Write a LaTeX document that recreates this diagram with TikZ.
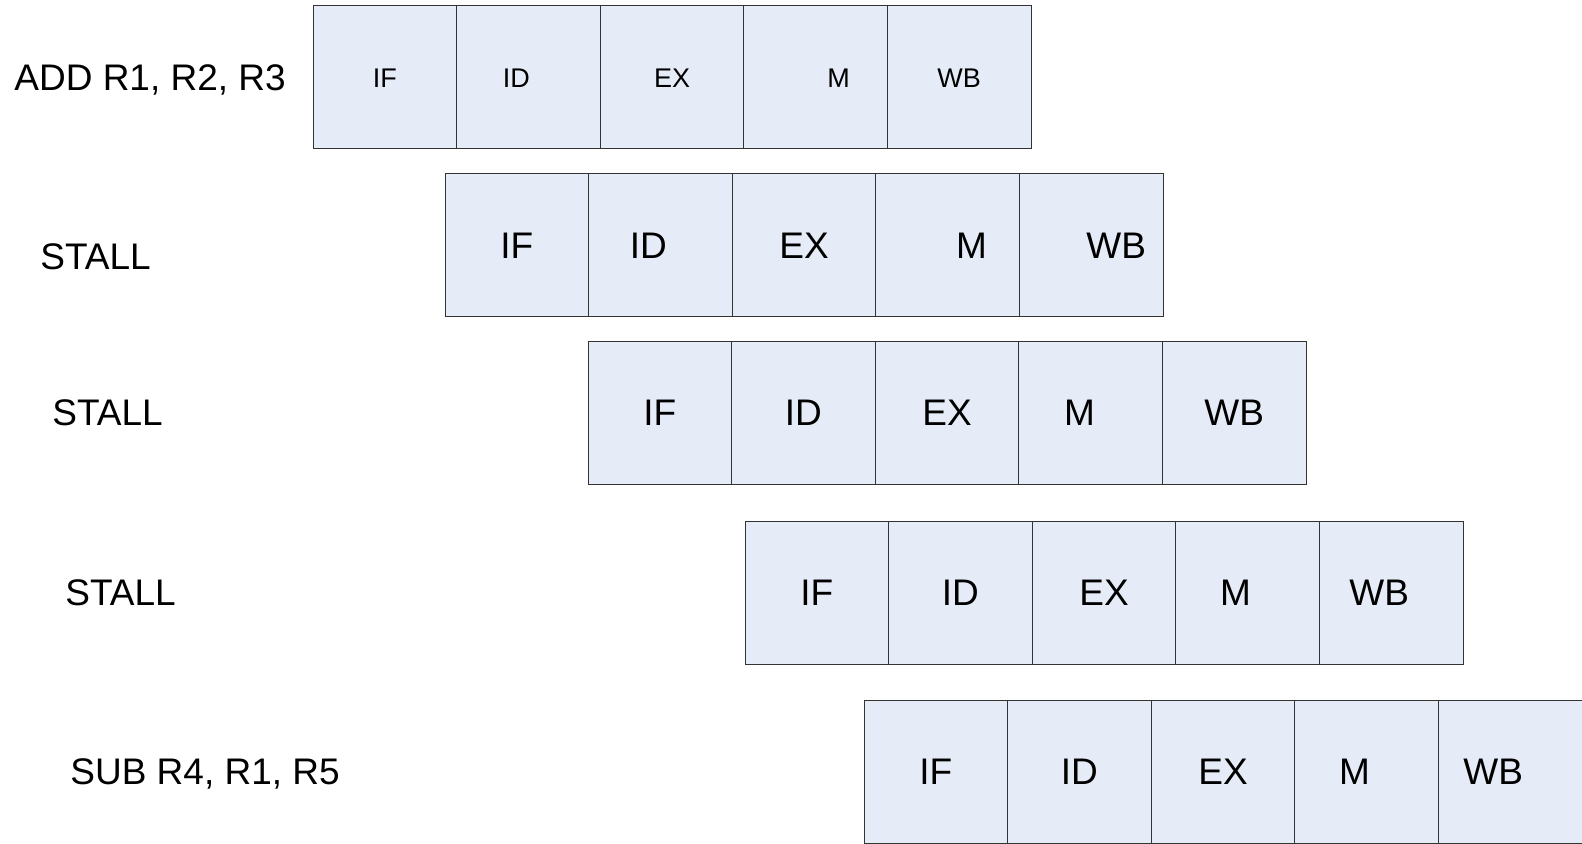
\documentclass[tikz,border=0pt]{standalone}
\usepackage{fontspec}
\setmainfont{Liberation Sans}
\usetikzlibrary{positioning}
\definecolor{stagefill}{RGB}{230,236,247}

\begin{document}
\begin{tikzpicture}[x=0.5pt, y=-0.5pt,
  cell/.style={draw=black!80, fill=stagefill, line width=0.5pt, minimum width=71.8pt,
    minimum height=71.5pt, inner sep=0pt, outer sep=0pt},
  stg/.style={font=\fontsize{18.5}{20}\selectfont, inner sep=0pt, text height=13.3pt, text depth=0pt},
  small/.style={font=\fontsize{13.5}{15}\selectfont, text height=9.7pt},
  instr/.style={anchor=west, font=\fontsize{18.5}{20}\selectfont, inner sep=0pt,
    text height=13.3pt, text depth=0pt}]
\useasboundingbox (0,0) rectangle (1582,844);

% ADD R1, R2, R3
\node[instr] (i1) at (14,77.5) {ADD R1, R2, R3};
\foreach \s/\dx [count=\i] in {IF/0,ID/-12,EX/0,M/23,WB/0} {
  \node[cell] (a\i) at ({313+143.6*(\i-0.5)},77.5) {};
  \node[stg, small] (a\i-txt) at ([xshift=\dx*0.5pt]a\i.center) {\s};
}

% first stall
\node[instr] (i2) at (40,256) {STALL};
\foreach \s/\dx [count=\i] in {IF/0,ID/-12,EX/0,M/24,WB/25} {
  \node[cell] (b\i) at ({445+143.6*(\i-0.5)},245) {};
  \node[stg] (b\i-txt) at ([xshift=\dx*0.5pt]b\i.center) {\s};
}

% second stall
\node[instr] (i3) at (52,412.5) {STALL};
\foreach \s/\dx [count=\i] in {IF/0,ID/0,EX/0,M/-11,WB/0} {
  \node[cell] (c\i) at ({588+143.6*(\i-0.5)},412.5) {};
  \node[stg] (c\i-txt) at ([xshift=\dx*0.5pt]c\i.center) {\s};
}

% third stall
\node[instr] (i4) at (65,592.5) {STALL};
\foreach \s/\dx [count=\i] in {IF/0,ID/0,EX/0,M/-12,WB/-12} {
  \node[cell] (d\i) at ({745+143.6*(\i-0.5)},592.5) {};
  \node[stg] (d\i-txt) at ([xshift=\dx*0.5pt]d\i.center) {\s};
}

% SUB R4, R1, R5
\node[instr] (i5) at (70,771.5) {SUB R4, R1, R5};
\foreach \s/\dx [count=\i] in {IF/0,ID/0,EX/0,M/-12,WB/-17} {
  \node[cell] (e\i) at ({864+143.6*(\i-0.5)},771.5) {};
  \node[stg] (e\i-txt) at ([xshift=\dx*0.5pt]e\i.center) {\s};
}
\end{tikzpicture}
\end{document}
